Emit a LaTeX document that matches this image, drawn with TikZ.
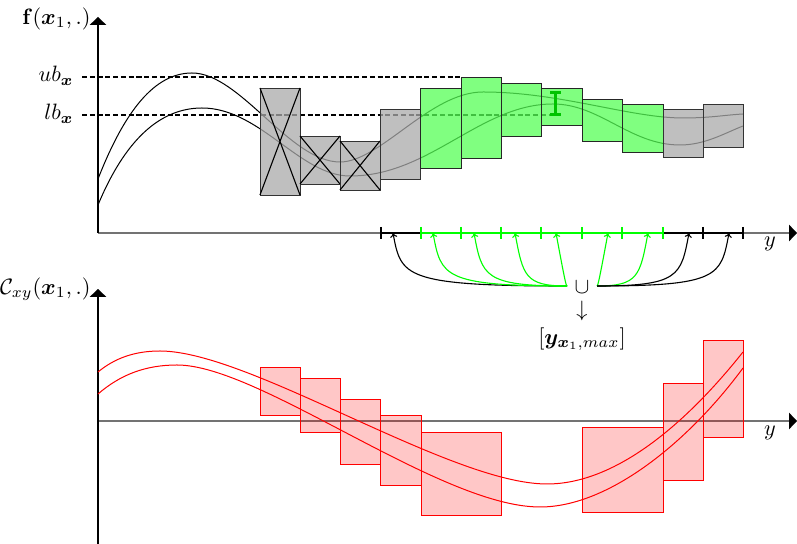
\documentclass[tikz,border=0pt]{standalone}
\usepackage{amsmath,amssymb,bm}
\usetikzlibrary{arrows.meta,calc}
\definecolor{grfill}{RGB}{86,255,86}
\definecolor{brightgreen}{RGB}{0,255,0}
\definecolor{ibar}{RGB}{0,195,0}
\begin{document}
\begin{tikzpicture}[x=0.45pt,y=-0.45pt,
 axisy/.style={line width=0.6pt, -{Triangle[length=3.6pt,width=7.4pt]}},
 axisx/.style={line width=0.6pt, black!55, -{Triangle[length=3.6pt,width=7.4pt,color=black]}},
 bound/.style={dash pattern=on 2.3pt off 1.2pt, line width=0.6pt},
 fcurve/.style={line width=0.45pt},
 ccurve/.style={line width=0.45pt, red},
 graybox/.style={draw=black!80, fill=gray!67, fill opacity=0.75},
 greenbox/.style={draw=black!85, fill=grfill, fill opacity=0.75},
 redbox/.style={draw=red, fill=red, fill opacity=0.22},
 cross/.style={line width=0.5pt},
 seg/.style={line width=0.9pt},
 tck/.style={line width=0.5pt},
 arr/.style={line width=0.5pt, -{To[length=2pt,width=3.2pt]}},
 lab/.style={inner sep=0pt}]
\useasboundingbox (0,0) rectangle (797,544);

% ---------------- top chart ----------------
\coordinate (o1) at (98,233);
\coordinate (ytop) at (98,17);
\coordinate (xend1) at (797,233);
\draw[axisx] (o1) -- (xend1);
\draw[axisy] (o1) -- (ytop);
\node[lab, anchor=east] (flab) at (91,19) {$\mathbf{f}(\boldsymbol{x}_1,.)$};
\node[lab] (y1) at (770,244) {$y$};

% curves
\draw[fcurve] (98,179) .. controls (125,110) and (155,73) .. (192,73)
  .. controls (240,73) and (290,162) .. (340,162)
  .. controls (380,162) and (430,92) .. (483,92)
  .. controls (560,92) and (630,118) .. (683,118)
  .. controls (710,118) and (725,115) .. (743,114);
\draw[fcurve] (98,205) .. controls (125,140) and (160,108) .. (202,108)
  .. controls (260,108) and (300,176) .. (350,176)
  .. controls (430,176) and (480,104) .. (553,104)
  .. controls (600,104) and (630,145) .. (680,145)
  .. controls (705,145) and (725,133) .. (743,126);

% bounds
\draw[bound] (82,77) -- (461,77);
\draw[bound] (82,115) -- (553,115);
\node[lab, anchor=base east] (ub) at (74,82) {$ub_{\boldsymbol{x}}$};
\node[lab, anchor=base east] (lb) at (74,120) {$lb_{\boldsymbol{x}}$};

% gray boxes with crosses
\draw[graybox] (260,88) rectangle (300,195);
\draw[cross] (260,88) -- (300,195) (300,88) -- (260,195);
\draw[graybox] (300,136) rectangle (340,184);
\draw[cross] (300,136) -- (340,184) (340,136) -- (300,184);
\draw[graybox] (340,141) rectangle (380,190);
\draw[cross] (340,141) -- (380,190) (380,141) -- (340,190);
\draw[graybox] (380,109) rectangle (420,179);
% green boxes
\draw[greenbox] (420,88) rectangle (461,168);
\draw[greenbox] (461,77) rectangle (501,158);
\draw[greenbox] (501,83) rectangle (541,136);
\draw[greenbox] (541,88) rectangle (582,125);
\draw[greenbox] (582,99) rectangle (622,141);
\draw[greenbox] (622,104) rectangle (663,152);
% gray boxes
\draw[graybox] (663,109) rectangle (703,157);
\draw[graybox] (703,104) rectangle (743,147);

% I bar
\draw[ibar, line width=1.1pt] (550,92.5) -- (561,92.5) (555.5,92.5) -- (555.5,114.5) (550,114.5) -- (561,114.5);

% axis segments and ticks
\draw[seg, black] (381,233) -- (421,233);
\draw[seg, brightgreen] (421,233) -- (663,233);
\draw[seg, black] (663,233) -- (743,233);
\foreach \t in {381,703,743} \draw[tck, black] (\t,227) -- (\t,239);
\foreach \t in {421,461,501,541,582,622,663} \draw[tck, brightgreen] (\t,227) -- (\t,239);

% union and result
\node[lab] (cup) at (582,287) {$\cup$};
\node[lab] (down) at (582,311) {$\downarrow$};
\node[lab] (res) at (582,339) {$[\boldsymbol{y}_{\boldsymbol{x}_1,max}]$};
\coordinate (sl) at (567,286);
\coordinate (sr) at (597,286);
\foreach \n/\x in {1/393,2/433,3/474,4/515,5/556,6/608,7/648,8/689,9/729}
  \coordinate (t\n) at (\x,233);
\foreach \n/\c in {1/black,2/brightgreen,3/brightgreen,4/brightgreen,5/brightgreen}
  \draw[arr, \c] (sl) .. controls ($(t\n)+(10,53)$) and ($(t\n)+(8,43)$) .. (t\n);
\foreach \n/\c in {6/brightgreen,7/brightgreen,8/black,9/black}
  \draw[arr, \c] (sr) .. controls ($(t\n)+(-10,53)$) and ($(t\n)+(-8,43)$) .. (t\n);

% ---------------- bottom chart ----------------
\coordinate (o2) at (98,421);
\coordinate (ybot) at (98,544);
\coordinate (ytop2) at (98,289);
\coordinate (xend2) at (797,421);
\draw[axisx] (o2) -- (xend2);
\draw[axisy] (ybot) -- (ytop2);
\node[lab, anchor=east] (clab) at (91,289) {$\mathcal{C}_{xy}(\boldsymbol{x}_1,.)$};
\node[lab] (y2) at (770,433) {$y$};

\draw[redbox] (260,367) rectangle (300,415);
\draw[redbox] (300,378) rectangle (340,432);
\draw[redbox] (340,399) rectangle (380,464);
\draw[redbox] (380,415) rectangle (421,485);
\draw[redbox] (421,432) rectangle (501,515);
\draw[redbox] (582,427) rectangle (663,512);
\draw[redbox] (663,383) rectangle (703,480);
\draw[redbox] (703,340) rectangle (743,437);

\draw[ccurve] (98,372) .. controls (115,358) and (135,351) .. (160,351)
  .. controls (250,351) and (450,484) .. (547,484)
  .. controls (615,484) and (685,425) .. (743,352);
\draw[ccurve] (98,394) .. controls (120,375) and (145,365) .. (177,365)
  .. controls (260,365) and (440,507) .. (540,507)
  .. controls (610,507) and (690,440) .. (743,368);
\end{tikzpicture}
\end{document}
